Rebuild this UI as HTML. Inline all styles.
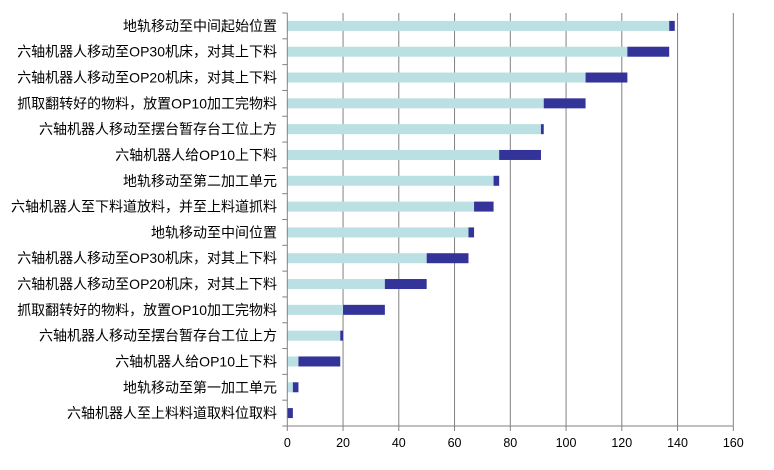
<!DOCTYPE html>
<html><head><meta charset="utf-8"><style>
html,body{margin:0;padding:0;background:#fff;}
svg text{font-family:"Liberation Sans","Noto Sans CJK SC",sans-serif;fill:#000;}
</style></head><body>
<svg width="774" height="465" xmlns="http://www.w3.org/2000/svg" id="chart">
<g id="grid"></g>
<g id="bars"></g>
<g id="axes"></g>
</svg>
<script>
const categories = ["地轨移动至中间起始位置","六轴机器人移动至OP30机床，对其上下料","六轴机器人移动至OP20机床，对其上下料","抓取翻转好的物料，放置OP10加工完物料","六轴机器人移动至摆台暂存台工位上方","六轴机器人给OP10上下料","地轨移动至第二加工单元","六轴机器人至下料道放料，并至上料道抓料","地轨移动至中间位置","六轴机器人移动至OP30机床，对其上下料","六轴机器人移动至OP20机床，对其上下料","抓取翻转好的物料，放置OP10加工完物料","六轴机器人移动至摆台暂存台工位上方","六轴机器人给OP10上下料","地轨移动至第一加工单元","六轴机器人至上料料道取料位取料"];
const startValues = [137,122,107,92,91,76,74,67,65,50,35,20,19,4,2,0];
const durationValues = [2,15,15,15,1,15,2,7,2,15,15,15,1,15,2,2];
const tickValues = [0,20,40,60,80,100,120,140,160];

const NS="http://www.w3.org/2000/svg";
const x0=287.3, x1=733.3, yTop=13, yBot=426, xMax=160;
const xs=v=>x0+(v/xMax)*(x1-x0);
const band=(yBot-yTop)/categories.length;
const yc=i=>yTop+band*(i+0.5);
function mk(tag,attrs,parent){const e=document.createElementNS(NS,tag);for(const k in attrs)e.setAttribute(k,attrs[k]);parent.appendChild(e);return e;}
const grid=document.getElementById('grid'),bars=document.getElementById('bars'),axes=document.getElementById('axes');
tickValues.forEach(t=>{
  if(t>0){const l=mk('line',{x1:xs(t),x2:xs(t),y1:yTop,y2:yBot,stroke:'#808080','stroke-width':1},grid);
  
  }
  const tk=mk('line',{x1:xs(t),x2:xs(t),y1:yBot,y2:yBot+5,stroke:'#808080'},axes);
  
  
  const tx=mk('text',{x:xs(t),y:yBot+21,'text-anchor':'middle','font-size':12.5,fill:'#333'},axes);
  tx.textContent=t;
  
  
});
categories.forEach((c,i)=>{
  const y=yc(i), h=10;
  const s=mk('rect',{x:xs(0),y:y-h/2,width:xs(startValues[i])-xs(0),height:h,fill:'#bbe0e3'},bars);
  
  
  const d=mk('rect',{x:xs(startValues[i]),y:y-h/2,width:xs(startValues[i]+durationValues[i])-xs(startValues[i]),height:h,fill:'#333399'},bars);
  
  
  const tx=mk('text',{x:277,y:y+5,'text-anchor':'end','font-size':14},axes);
  tx.textContent=c;
  
  
});
for(let i=0;i<=categories.length;i++){
  const y=yTop+band*i;
  const tk=mk('line',{x1:x0-5,x2:x0,y1:y,y2:y,stroke:'#808080'},axes);
  
  
}
const ya=mk('line',{x1:x0,x2:x0,y1:yTop,y2:yBot,stroke:'#808080'},axes);


const xa=mk('line',{x1:x0,x2:x1,y1:yBot,y2:yBot,stroke:'#808080'},axes);


</script>
</body></html>
